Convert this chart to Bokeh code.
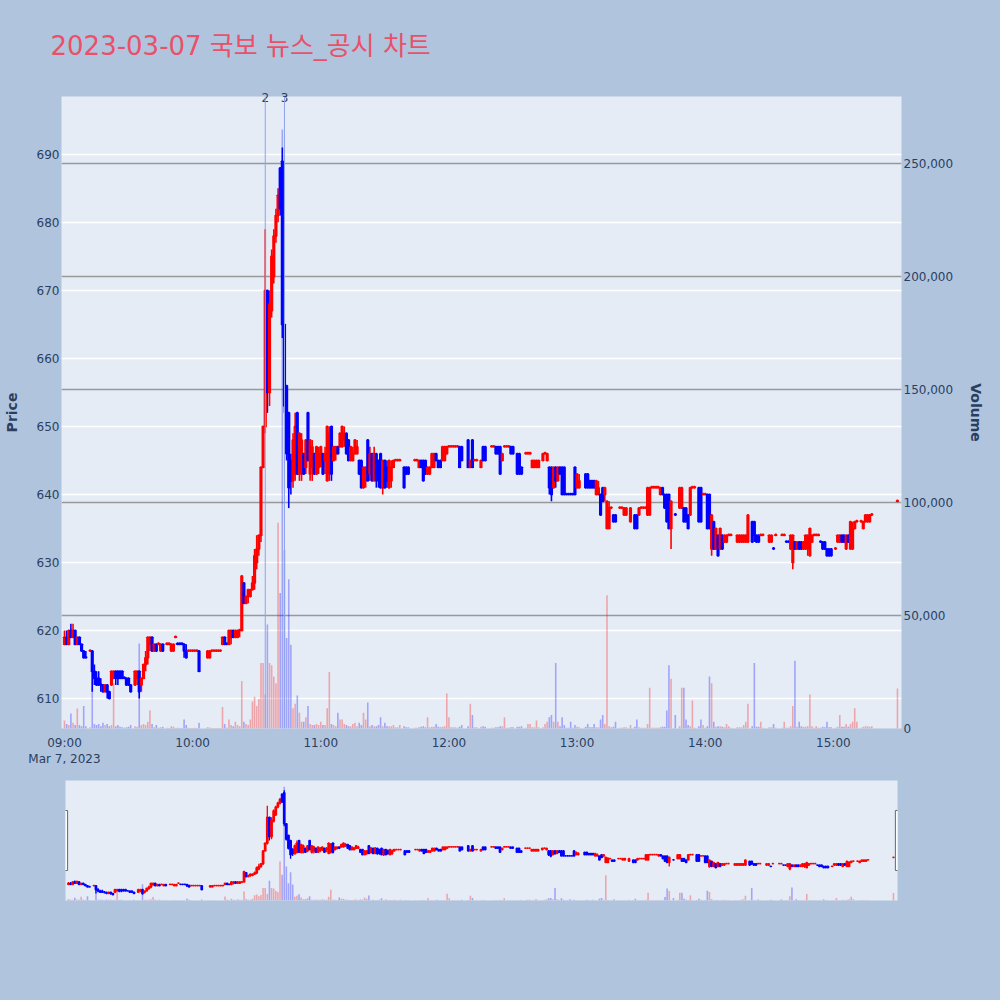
import re
import pandas as pd
from bokeh.plotting import figure
from bokeh.models import (ColumnDataSource, Range1d, LinearAxis, FixedTicker, NumeralTickFormatter,
                          CustomJSTickFormatter, Grid, Span, BoxAnnotation, Title)
from bokeh.layouts import column
from bokeh.embed import file_html
from bokeh.resources import INLINE

title_text = "2023-03-07 국보 뉴스_공시 차트"
session_date = "2023-03-07"
date_label = "Mar 7, 2023"
news_labels = ["2", "3"]
news_minutes = [94, 103]          # minutes after 09:00
price_ticks = [610, 620, 630, 640, 650, 660, 670, 680, 690]
volume_ticks = [0, 50000, 100000, 150000, 200000, 250000]
hour_ticks = [0, 60, 120, 180, 240, 300, 360]

# minutes after 09:00
minute = [0, 1, 2, 3, 4, 5, 6, 7, 8, 9, 10,
          12, 13, 14, 15, 16, 17, 18, 19, 20, 21,
          22, 23, 24, 25, 26, 27, 28, 29, 30, 31,
          33, 34, 35, 36, 37, 38, 39, 40, 41, 42,
          43, 44, 45, 46, 48, 49, 50, 51, 52, 53,
          54, 55, 56, 57, 58, 59, 60, 61, 62, 63,
          67, 68, 69, 70, 71, 72, 73, 74, 75, 76,
          77, 78, 79, 80, 81, 82, 83, 84, 85, 86,
          87, 88, 89, 90, 91, 92, 93, 94, 95, 96,
          97, 98, 99, 100, 101, 102, 103, 104, 105, 106,
          107, 108, 109, 110, 111, 112, 113, 114, 115, 116,
          117, 118, 119, 120, 121, 122, 123, 124, 125, 126,
          127, 128, 129, 130, 131, 132, 133, 134, 135, 136,
          137, 138, 139, 140, 141, 142, 143, 144, 145, 146,
          147, 148, 149, 150, 151, 152, 153, 154, 155, 156,
          157, 159, 160, 161, 164, 165, 166, 167, 168, 169,
          170, 171, 172, 173, 174, 175, 176, 177, 178, 179,
          180, 181, 182, 183, 184, 185, 186, 189, 190, 191,
          192, 193, 195, 196, 197, 200, 201, 202, 203, 204,
          205, 206, 207, 208, 209, 210, 212, 213, 214, 216,
          217, 218, 219, 220, 221, 222, 224, 225, 226, 227,
          228, 229, 230, 231, 232, 233, 234, 235, 236, 237,
          238, 239, 240, 241, 244, 245, 246, 247, 248, 249,
          250, 251, 252, 253, 254, 255, 256, 257, 258, 260,
          261, 262, 263, 265, 267, 268, 269, 270, 271, 272,
          273, 274, 275, 276, 277, 278, 279, 280, 281, 282,
          283, 284, 286, 288, 289, 290, 291, 292, 293, 294,
          295, 297, 298, 299, 300, 301, 302, 303, 304, 305,
          306, 307, 308, 309, 310, 311, 312, 315, 316, 317,
          318, 319, 320, 322, 323, 324, 325, 326, 327, 330,
          331, 332, 333, 336, 337, 338, 339, 340, 341, 342,
          343, 344, 345, 346, 347, 348, 349, 350, 351, 352,
          353, 354, 355, 356, 357, 358, 359, 361, 362, 363,
          364, 365, 366, 367, 368, 369, 370, 371, 373, 374,
          375, 376, 377, 378, 390]

open_ = [618, 619, 618, 620, 619, 620, 618, 619, 618, 617, 616,
         617, 617, 614, 613, 613, 612, 612, 611, 612, 611,
         612, 613, 614, 614, 614, 614, 613, 613, 613, 612,
         612, 613, 614, 612, 613, 615, 616, 618, 619, 617,
         618, 618, 617, 618, 618, 618, 617, 617, 619, 618,
         618, 618, 618, 617, 617, 617, 617, 617, 617, 617,
         616, 616, 617, 617, 617, 617, 617, 618, 619, 618,
         618, 619, 620, 619, 619, 620, 620, 627, 624, 625,
         625, 626, 627, 630, 632, 634, 644, 650, 670, 655,
         667, 672, 678, 681, 688, 689, 665, 656, 652, 645,
         642, 643, 652, 643, 643, 646, 644, 652, 643, 644,
         646, 643, 644, 645, 646, 645, 642, 643, 650, 645,
         646, 647, 647, 647, 648, 649, 648, 645, 645, 646,
         646, 645, 645, 641, 642, 648, 643, 646, 642, 646,
         645, 646, 641, 645, 644, 641, 642, 644, 645, 645,
         645, 644, 644, 644, 645, 645, 644, 645, 645, 645,
         643, 643, 644, 644, 646, 645, 645, 645, 645, 646,
         647, 647, 647, 647, 647, 647, 647, 648, 644, 648,
         645, 645, 644, 647, 647, 647, 647, 647, 647, 647,
         645, 647, 647, 647, 647, 647, 646, 646, 644, 646,
         646, 646, 644, 644, 644, 644, 645, 646, 645, 644,
         644, 641, 644, 642, 644, 644, 644, 640, 640, 640,
         640, 644, 641, 641, 643, 643, 642, 642, 642, 640,
         640, 640, 641, 640, 635, 635, 638, 637, 637, 638,
         638, 637, 637, 636, 637, 637, 637, 638, 638, 638,
         637, 637, 641, 641, 641, 641, 640, 641, 640, 640,
         640, 635, 637, 638, 638, 638, 638, 637, 637, 641,
         641, 641, 641, 640, 640, 640, 640, 632, 636, 632,
         634, 632, 634, 633, 633, 634, 634, 633, 633, 633,
         633, 633, 633, 636, 636, 634, 634, 634, 634, 633,
         633, 632, 634, 634, 634, 633, 633, 632, 630, 633,
         632, 633, 633, 632, 632, 632, 631, 633, 634, 634,
         634, 633, 633, 633, 632, 632, 632, 632, 633, 633,
         634, 634, 632, 634, 632, 632, 635, 636, 636, 635,
         636, 636, 636, 637, 639]

high = [620, 620, 620, 621, 621, 620, 619, 619, 618, 617, 617,
        617, 617, 615, 614, 614, 613, 612, 612, 612, 611,
        614, 614, 614, 614, 614, 614, 613, 613, 613, 612,
        614, 614, 614, 613, 615, 617, 619, 619, 619, 618,
        618, 618, 618, 618, 618, 618, 618, 618, 619, 618,
        618, 618, 618, 618, 617, 617, 617, 617, 617, 617,
        617, 617, 617, 617, 617, 617, 617, 619, 619, 618,
        620, 620, 620, 620, 620, 620, 628, 627, 625, 626,
        626, 628, 632, 634, 634, 644, 650, 679, 670, 670,
        676, 679, 682, 685, 688, 691, 665, 656, 652, 646,
        649, 652, 652, 649, 649, 646, 648, 652, 648, 648,
        646, 647, 647, 647, 646, 647, 650, 650, 650, 647,
        647, 647, 649, 650, 650, 649, 648, 647, 647, 648,
        648, 645, 645, 644, 644, 648, 647, 646, 647, 646,
        645, 646, 645, 645, 645, 645, 645, 645, 645, 645,
        645, 644, 644, 644, 645, 645, 645, 645, 645, 645,
        644, 644, 646, 646, 646, 645, 645, 647, 647, 647,
        647, 647, 647, 647, 647, 647, 647, 648, 645, 648,
        645, 645, 645, 647, 647, 647, 647, 647, 647, 647,
        646, 647, 647, 647, 647, 647, 646, 646, 644, 646,
        646, 646, 645, 645, 645, 645, 646, 646, 646, 644,
        644, 644, 644, 644, 644, 644, 644, 640, 640, 640,
        640, 644, 643, 643, 643, 643, 642, 642, 642, 642,
        642, 640, 641, 641, 639, 639, 638, 637, 637, 638,
        638, 638, 638, 638, 637, 637, 638, 638, 638, 638,
        641, 641, 641, 641, 641, 641, 641, 641, 640, 640,
        640, 639, 637, 641, 641, 638, 638, 637, 641, 641,
        641, 641, 641, 640, 640, 640, 640, 637, 636, 635,
        634, 635, 634, 634, 634, 634, 634, 634, 634, 634,
        634, 634, 637, 636, 636, 634, 634, 634, 634, 634,
        634, 632, 634, 634, 634, 633, 633, 634, 634, 633,
        633, 633, 633, 633, 634, 634, 635, 634, 634, 634,
        634, 633, 633, 633, 632, 632, 632, 632, 634, 634,
        634, 634, 634, 634, 636, 636, 636, 636, 636, 636,
        637, 637, 637, 637, 639]

low = [618, 618, 618, 619, 619, 618, 618, 618, 617, 616, 616,
       617, 611, 612, 612, 612, 611, 611, 611, 610, 610,
       612, 613, 612, 612, 613, 613, 613, 612, 612, 611,
       612, 612, 610, 611, 613, 614, 615, 617, 617, 617,
       617, 618, 617, 617, 618, 618, 617, 617, 619, 618,
       618, 618, 616, 616, 617, 617, 617, 617, 617, 614,
       616, 616, 617, 617, 617, 617, 617, 618, 618, 618,
       618, 618, 619, 619, 619, 619, 620, 624, 624, 624,
       625, 626, 626, 629, 631, 633, 644, 649, 652, 653,
       666, 671, 677, 680, 681, 663, 652, 645, 638, 640,
       641, 642, 643, 642, 642, 643, 643, 645, 642, 642,
       643, 643, 643, 644, 643, 643, 642, 642, 642, 645,
       645, 646, 647, 647, 647, 646, 645, 645, 645, 646,
       646, 643, 641, 641, 641, 642, 642, 642, 642, 641,
       641, 641, 640, 641, 641, 641, 641, 644, 645, 645,
       645, 641, 643, 643, 645, 645, 644, 644, 642, 643,
       643, 643, 644, 644, 645, 644, 644, 645, 645, 646,
       647, 647, 647, 647, 647, 644, 645, 644, 644, 644,
       645, 645, 644, 645, 645, 647, 647, 646, 646, 643,
       645, 647, 647, 647, 646, 646, 643, 643, 643, 646,
       646, 646, 644, 644, 644, 644, 645, 646, 645, 640,
       639, 641, 641, 642, 643, 640, 640, 640, 640, 640,
       640, 640, 641, 641, 641, 641, 641, 641, 641, 640,
       640, 637, 639, 639, 635, 635, 638, 636, 636, 638,
       638, 637, 637, 636, 635, 635, 637, 638, 638, 638,
       637, 637, 641, 641, 641, 641, 640, 640, 638, 636,
       635, 632, 637, 638, 638, 636, 636, 635, 637, 641,
       641, 636, 636, 640, 640, 635, 635, 631, 632, 632,
       631, 632, 632, 633, 633, 634, 634, 633, 633, 633,
       633, 633, 633, 633, 633, 633, 633, 634, 634, 633,
       633, 632, 634, 634, 634, 633, 633, 632, 629, 632,
       632, 632, 632, 632, 632, 631, 631, 633, 634, 634,
       634, 633, 632, 632, 631, 631, 631, 632, 633, 633,
       633, 633, 632, 633, 632, 632, 635, 636, 636, 635,
       636, 636, 636, 637, 639]

close = [619, 618, 620, 619, 620, 618, 619, 618, 617, 616, 616,
         617, 614, 613, 612, 612, 612, 611, 612, 611, 610,
         614, 614, 613, 613, 613, 613, 613, 612, 612, 611,
         614, 614, 611, 613, 615, 616, 619, 619, 617, 618,
         617, 618, 618, 617, 618, 618, 618, 618, 619, 618,
         618, 618, 617, 616, 617, 617, 617, 617, 617, 614,
         617, 617, 617, 617, 617, 617, 617, 619, 618, 618,
         620, 620, 619, 620, 620, 620, 628, 624, 625, 626,
         626, 627, 631, 632, 634, 644, 650, 670, 655, 668,
         675, 678, 681, 684, 682, 665, 653, 646, 641, 642,
         648, 650, 643, 649, 648, 643, 648, 645, 648, 647,
         643, 647, 646, 647, 643, 646, 650, 649, 643, 647,
         647, 646, 649, 650, 649, 646, 645, 647, 646, 648,
         647, 643, 641, 644, 644, 642, 646, 642, 646, 642,
         642, 641, 645, 641, 642, 645, 644, 645, 645, 645,
         645, 641, 643, 643, 645, 645, 645, 644, 642, 643,
         644, 644, 646, 646, 645, 644, 644, 647, 647, 647,
         647, 647, 647, 647, 647, 644, 645, 644, 645, 644,
         645, 645, 645, 645, 645, 647, 647, 646, 646, 643,
         646, 647, 647, 647, 646, 646, 643, 643, 643, 646,
         646, 646, 645, 645, 645, 645, 646, 646, 646, 641,
         640, 644, 642, 644, 643, 640, 640, 640, 640, 640,
         640, 640, 643, 642, 641, 641, 641, 641, 641, 642,
         641, 637, 639, 641, 639, 638, 638, 636, 636, 638,
         638, 638, 638, 638, 635, 635, 638, 638, 638, 638,
         641, 641, 641, 641, 641, 641, 641, 640, 638, 636,
         635, 639, 637, 641, 641, 636, 636, 635, 641, 641,
         641, 636, 636, 640, 640, 635, 635, 637, 632, 635,
         631, 635, 632, 634, 634, 634, 634, 634, 634, 634,
         634, 634, 637, 633, 634, 633, 633, 634, 634, 634,
         634, 632, 634, 634, 634, 633, 633, 634, 634, 632,
         633, 632, 632, 633, 634, 634, 635, 634, 634, 634,
         634, 633, 632, 632, 631, 631, 631, 632, 634, 634,
         633, 633, 634, 633, 636, 635, 636, 636, 636, 636,
         637, 637, 637, 637, 639]

volume = [3500, 2000, 1500, 6600, 2500, 1500, 8800, 1500, 1000, 10000, 1000,
          500, 34500, 2000, 1500, 2000, 1000, 2500, 1500, 2000, 1000,
          1500, 20000, 1000, 1500, 800, 500, 300, 600, 800, 1500,
          1000, 800, 37600, 1500, 2000, 1500, 3000, 8000, 2000, 500,
          1500, 300, 500, 800, 300, 200, 1000, 800, 200, 300,
          200, 200, 4000, 1500, 300, 200, 200, 300, 200, 2500,
          500, 400, 200, 200, 200, 200, 200, 9500, 2000, 300,
          4000, 1500, 1000, 3000, 1500, 1000, 21000, 3000, 2000, 1500,
          4000, 12000, 14000, 10000, 13000, 29000, 29000, 15000, 46000, 29000,
          28000, 23000, 20000, 91000, 60000, 265000, 79000, 40000, 66000, 37000,
          9000, 11000, 14600, 7000, 3000, 3000, 5000, 10000, 2000, 1500,
          1500, 2000, 1500, 3000, 1500, 1500, 9000, 25000, 2000, 1500,
          1000, 7000, 4000, 4000, 2000, 1500, 1000, 1000, 2000, 2500,
          1000, 2500, 1500, 7000, 4000, 11500, 1000, 1500, 1000, 1000,
          1500, 5000, 1000, 2500, 1000, 1000, 1000, 1500, 500, 500,
          1500, 1000, 500, 500, 300, 300, 500, 800, 1000, 500,
          5000, 500, 800, 800, 2000, 800, 500, 800, 1000, 15500,
          5000, 500, 500, 500, 300, 800, 1500, 1000, 11000, 6000,
          500, 500, 800, 1000, 800, 300, 300, 500, 500, 1000,
          1000, 5000, 300, 300, 500, 500, 800, 800, 1000, 300,
          2000, 2000, 500, 500, 3500, 500, 500, 2000, 3000, 5000,
          6000, 3000, 29000, 3000, 1000, 5000, 1500, 300, 300, 3000,
          300, 1500, 800, 500, 800, 2000, 500, 500, 2000, 500,
          500, 4000, 6000, 2000, 59000, 1000, 500, 800, 3000, 300,
          300, 500, 500, 1500, 800, 4000, 500, 300, 300, 300,
          2000, 18000, 300, 300, 300, 300, 500, 800, 800, 8000,
          28000, 22000, 6000, 1000, 18000, 18000, 4000, 1500, 1000, 12400,
          300, 1000, 4000, 1500, 300, 1000, 23000, 20000, 3000, 800,
          1000, 1000, 800, 500, 2000, 1000, 300, 500, 500, 500,
          1500, 3000, 11000, 1000, 29000, 800, 800, 3000, 300, 500,
          500, 2000, 300, 300, 3000, 300, 300, 1000, 10000, 30000,
          800, 3000, 1000, 800, 800, 1000, 15000, 1000, 300, 1000,
          300, 300, 800, 500, 3000, 500, 500, 300, 800, 6000,
          800, 800, 2000, 800, 2000, 3000, 9000, 3000, 300, 800,
          1000, 1000, 800, 1000, 17700]

# ---------------------------------------------------------------- build
base = pd.Timestamp(session_date + " 09:00")
times = [base + pd.Timedelta(minutes=m) for m in minute]


def ms(ts):
    return ts.value // 10**6


# plotly-style direction (equal open/close keeps direction vs. previous close)
direction = []
prev_c, inc = None, True
for o, c in zip(open_, close):
    if c == o:
        if prev_c is not None and c != prev_c:
            inc = c > prev_c
    else:
        inc = c > o
    direction.append(inc)
    prev_c = c
colors = ["#ff0000" if d else "#0000ff" for d in direction]
body_top = [max(o, c) for o, c in zip(open_, close)]
body_bot = [min(o, c) for o, c in zip(open_, close)]
body_top = [t + 0.12 if t == b else t for t, b in zip(body_top, body_bot)]

src = ColumnDataSource(dict(t=times, h=high, l=low, top=body_top, bot=body_bot,
                            v=volume, col=colors))

MIN = 60000
x_start = base - pd.Timedelta(seconds=84)
x_end = base + pd.Timedelta(seconds=391.9 * 60)
y_lo, y_hi = 605.6, 698.5
v_hi = 279600

BG = "#b0c4de"
PLOT_BG = "#e5ecf6"
TXT = "#2a3f5f"
FONT = "DejaVu Sans, Noto Sans CJK KR"


def plain_axis(ax, standoff):
    ax.axis_line_color = None
    ax.major_tick_line_color = None
    ax.minor_tick_line_color = None
    ax.major_tick_out = 0
    ax.major_tick_in = 0
    ax.minor_tick_out = 0
    ax.minor_tick_in = 0
    ax.major_label_standoff = standoff
    ax.major_label_text_font_size = "12px"
    ax.major_label_text_color = TXT
    ax.major_label_text_font = FONT


p = figure(width=1000, height=780, x_axis_type="datetime",
           x_range=Range1d(x_start, x_end), y_range=Range1d(y_lo, y_hi),
           output_backend="svg", toolbar_location=None,
           min_border_left=61, min_border_right=99, min_border_top=96, min_border_bottom=52)
p.frame_align = False
p.background_fill_color = PLOT_BG
p.border_fill_color = BG
p.outline_line_color = None
p.extra_y_ranges = {"vol": Range1d(0, v_hi)}

p.title = Title(text=title_text, align="left", offset=-11, standoff=55, vertical_align="middle",
                text_font_size="26px", text_color="#ea5068",
                text_font_style="normal", text_font=FONT)

# x axis
xa = p.xaxis[0]
xa.ticker = FixedTicker(ticks=[ms(base + pd.Timedelta(minutes=m)) for m in hour_ticks])
xa.formatter = CustomJSTickFormatter(args=dict(date_label=date_label), code="""
    const d = new Date(tick);
    const hh = String(d.getUTCHours()).padStart(2, '0');
    const mm = String(d.getUTCMinutes()).padStart(2, '0');
    return index == 0 ? hh + ':' + mm + '\\n' + date_label : hh + ':' + mm;
""")
plain_axis(xa, 7)
p.xgrid.visible = False

# news markers: labels on an axis above the frame, vertical lines through it
news_ms = [ms(base + pd.Timedelta(minutes=m)) for m in news_minutes]
na = LinearAxis(ticker=FixedTicker(ticks=news_ms),
                formatter=CustomJSTickFormatter(args=dict(vals=news_ms, labels=news_labels), code="""
    const i = vals.indexOf(tick);
    return i >= 0 ? labels[i] : '';
"""))
plain_axis(na, -5)
p.add_layout(na, "above")
for xm in news_ms:
    p.add_layout(Span(location=xm, dimension="height", line_color="#8ea3ea", line_width=1))

# left (price) axis
ya = p.yaxis[0]
ya.ticker = FixedTicker(ticks=price_ticks)
ya.axis_label = "Price"
ya.axis_label_text_font_size = "14px"
ya.axis_label_text_font_style = "bold"
ya.axis_label_text_color = TXT
ya.axis_label_text_font = FONT
ya.axis_label_standoff = 14
plain_axis(ya, 2)
p.ygrid.ticker = FixedTicker(ticks=price_ticks)
p.ygrid.grid_line_color = "white"
p.ygrid.grid_line_width = 1.3

# right (volume) axis
va = LinearAxis(y_range_name="vol", ticker=FixedTicker(ticks=volume_ticks),
                formatter=NumeralTickFormatter(format="0,0"), axis_label="Volume")
va.axis_label_text_font_size = "14px"
va.axis_label_text_font_style = "bold"
va.axis_label_text_color = TXT
va.axis_label_text_font = FONT
va.axis_label_standoff = 12
plain_axis(va, 2)
p.add_layout(va, "right")

vgrid = Grid(dimension=1, ticker=FixedTicker(ticks=volume_ticks), y_range_name="vol",
             grid_line_color="#999999", grid_line_width=1.5)
p.add_layout(vgrid)

# candles
p.segment(x0="t", y0="l", x1="t", y1="h", source=src, line_color="col", line_width=1.6)
p.vbar(x="t", width=0.55 * MIN, top="top", bottom="bot", source=src,
       fill_color="col", line_color="col", line_width=2)
# volume
p.vbar(x="t", width=0.75 * MIN, top="v", bottom=0, source=src, y_range_name="vol",
       fill_color="col", fill_alpha=0.3, line_color=None)

# --------------------------------------------------------------- range slider
p2 = figure(width=1000, height=220, x_axis_type="datetime",
            x_range=Range1d(x_start, x_end), y_range=Range1d(y_lo, y_hi),
            output_backend="svg", toolbar_location=None,
            x_axis_location=None, y_axis_location=None,
            min_border_left=65, min_border_right=103, min_border_top=0, min_border_bottom=100)
p2.frame_align = False
p2.background_fill_color = PLOT_BG
p2.border_fill_color = BG
p2.outline_line_color = None
p2.grid.visible = False
p2.extra_y_ranges = {"vol": Range1d(0, v_hi)}
p2.segment(x0="t", y0="l", x1="t", y1="h", source=src, line_color="col", line_width=1.3)
p2.vbar(x="t", width=0.55 * MIN, top="top", bottom="bot", source=src,
        fill_color="col", line_color="col", line_width=1.6)
p2.vbar(x="t", width=0.75 * MIN, top="v", bottom=0, source=src, y_range_name="vol",
        fill_color="col", fill_alpha=0.3, line_color=None)
span = y_hi - y_lo
for edge in (x_start, x_end):
    e = ms(edge)
    p2.add_layout(BoxAnnotation(left=e - 1.0 * MIN, right=e + 1.0 * MIN,
                                bottom=y_lo + 0.25 * span, top=y_lo + 0.75 * span,
                                fill_color="white", fill_alpha=1.0,
                                line_color="#666666", line_width=1, line_alpha=1.0))

layout = column(p, p2, styles={"background-color": BG})
html = file_html(layout, INLINE)
html = re.sub(r"<body([^>]*)>", r'<body\1 style="margin:0;background:#b0c4de;">', html, count=1)
html = html.replace("</head>", "<style>html{background:#b0c4de;}</style></head>", 1)
open("out.html", "w").write(html)
